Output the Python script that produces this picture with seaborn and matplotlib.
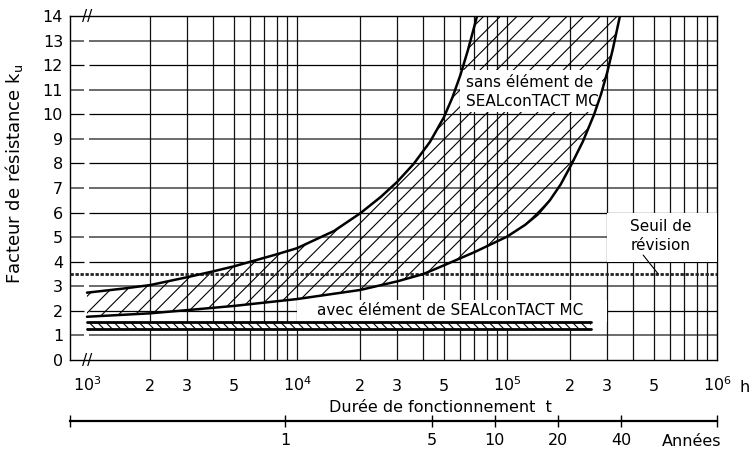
import numpy as np
import seaborn as sns
from matplotlib import pyplot as plt
from matplotlib.patches import Rectangle

# values (operating hours -> resistance factor k_u)
sans_upper_hours = [1e3, 1.5e3, 2e3, 3e3, 4e3, 5e3, 6e3, 8e3, 1e4, 1.5e4, 2e4,
                    2.5e4, 3e4, 3.6e4, 4.3e4, 5e4, 5.5e4, 6e4, 6.5e4, 7e4, 7.2e4]
sans_upper_ku = [2.74, 2.91, 3.05, 3.37, 3.61, 3.81, 4.0, 4.3, 4.55, 5.25, 5.97,
                 6.63, 7.25, 7.99, 8.88, 9.87, 10.69, 11.6, 12.58, 13.6, 14.0]
sans_lower_hours = [1e3, 2e3, 3e3, 5e3, 1e4, 2e4, 3e4, 4e4, 5e4, 7e4, 1e5, 1.22e5,
                    1.4e5, 1.6e5, 1.8e5, 2.03e5, 2.3e5, 2.6e5, 2.8e5, 3e5, 3.2e5,
                    3.45e5]
sans_lower_ku = [1.76, 1.9, 2.03, 2.2, 2.48, 2.85, 3.2, 3.5, 3.85, 4.39, 5.02, 5.5,
                 5.92, 6.5, 7.14, 7.97, 8.9, 10.0, 10.8, 11.7, 12.7, 14.0]

avec_hours = [1e3, 2.5e5]
avec_low = [1.25, 1.25]
avec_high = [1.55, 1.55]

seuil = 3.5

hour_ticks = [1e3, 2e3, 3e3, 5e3, 1e4, 2e4, 3e4, 5e4, 1e5, 2e5, 3e5, 5e5, 1e6]
hour_labels = [r"$10^{3}$", "2", "3", "5", r"$10^{4}$", "2", "3", "5",
               r"$10^{5}$", "2", "3", "5", r"$10^{6}$"]
year_ticks = [1, 5, 10, 20, 40]
HOURS_PER_YEAR = 8760.0

sns.set_theme(style="white")
plt.rcParams["font.family"] = ["DejaVu Sans"]
plt.rcParams["mathtext.default"] = "regular"
plt.rcParams["hatch.linewidth"] = 0.8
plt.rcParams["text.color"] = "black"
plt.rcParams["axes.labelcolor"] = "black"

fig = plt.figure(figsize=(7.52, 4.5), dpi=100)
ax = fig.add_axes([70 / 752, 90 / 450, 647 / 752, 344 / 450])
ax.set_xscale("log")
xmin, xmax = 830, 1e6
ax.set_xlim(xmin, xmax)
ax.set_ylim(0, 14)

# grid: horizontal lines broken right of the axis break, odd levels slightly grey
for level in range(1, 14):
    col = "#444444" if level % 2 else "black"
    lw = 1.1 if level % 2 else 0.9
    ax.hlines(level, xmin, 970, color=col, lw=lw, zorder=1)
    ax.hlines(level, 1025, xmax, color=col, lw=lw, zorder=1)
minor_x = [m * 10.0 ** e for e in (3, 4, 5) for m in range(2, 11)][:-1]
ax.vlines(minor_x, 0, 14, color="#111111", lw=0.9, zorder=1)

# hatched band without SEALconTACT element
poly_x = np.concatenate([sans_upper_hours, sans_lower_hours[::-1]])
poly_y = np.concatenate([sans_upper_ku, sans_lower_ku[::-1]])
ax.fill(poly_x, poly_y, facecolor="none", edgecolor="black", hatch="//",
        linewidth=0, zorder=2)

# narrow band with element
ax.fill_between(avec_hours, avec_low, avec_high, facecolor="white",
                edgecolor="black", hatch="\\\\\\\\", linewidth=0, zorder=2)
sns.lineplot(x=avec_hours, y=avec_low, color="black", lw=2.0, ax=ax, zorder=5)
sns.lineplot(x=avec_hours, y=avec_high, color="black", lw=2.0, ax=ax, zorder=5)

# white backgrounds behind the labels
ax.add_patch(Rectangle((1e4, 1.56), 3e5 - 1e4, 0.89, facecolor="white",
                       edgecolor="none", zorder=3))
ax.add_patch(Rectangle((5.97e4, 10.1), 2.82e5 - 5.97e4, 1.7, facecolor="white",
                       edgecolor="none", zorder=3))
ax.add_patch(Rectangle((3e5, 4), xmax - 3e5, 2, facecolor="white",
                       edgecolor="none", zorder=3))

ax.axhline(seuil, color="#222222", lw=2.0, ls=(0, (1.2, 0.6)), zorder=4)

sns.lineplot(x=sans_upper_hours, y=sans_upper_ku, color="black", lw=1.8,
             ax=ax, zorder=5)
sns.lineplot(x=sans_lower_hours, y=sans_lower_ku, color="black", lw=1.8,
             ax=ax, zorder=5)

ax.text(6.38e4, 10.9, "sans élément de\nSEALconTACT MC", ha="left", va="center",
        fontsize=11, linespacing=1.35, zorder=6)
ax.text(1.245e4, 2.0, "avec élément de SEALconTACT MC", ha="left", va="center",
        fontsize=11, zorder=6)
ax.text(5.41e5, 5.05, "Seuil de\nrévision", ha="center", va="center",
        fontsize=11, linespacing=1.3, zorder=6)
ax.annotate("", xy=(5.25e5, seuil), xytext=(4.45e5, 4.27),
            arrowprops=dict(arrowstyle="-", lw=0.8, color="black",
                            shrinkA=0, shrinkB=0), zorder=6)

# axis break marks
for yb in (0, 1):
    ax.text(0.027, yb, "//", transform=ax.transAxes, ha="center", va="center",
            fontsize=11, zorder=7, clip_on=False)

for s in ax.spines.values():
    s.set_visible(True)
    s.set_color("black")
    s.set_linewidth(1.0)

ax.set_yticks(range(0, 15))
ax.tick_params(axis="y", length=0, pad=5, labelsize=11.5, colors="black")
ax.set_xticks(hour_ticks, hour_labels)
ax.xaxis.set_minor_locator(plt.NullLocator())
ax.tick_params(axis="x", length=0, pad=22, labelsize=11.5, colors="black")
for lab in ax.get_xticklabels():
    lab.set_verticalalignment("baseline")

ax.set_ylabel("Facteur de résistance k$_{u}$", fontsize=13)
ax.yaxis.set_label_coords(-0.07, 0.54)
fig.text(440 / 752, 1 - 407 / 450, "Durée de fonctionnement  t", ha="center",
         va="center", fontsize=11.5)
fig.text(745 / 752, 1 - 391.7 / 450, "h", ha="center", va="baseline", fontsize=11.5)

# second scale in years
sec = ax.secondary_xaxis(-0.177, functions=(lambda h: h / HOURS_PER_YEAR,
                                            lambda y: y * HOURS_PER_YEAR))
yr_min, yr_max = xmin / HOURS_PER_YEAR, xmax / HOURS_PER_YEAR
sec.set_xticks([yr_min] + year_ticks + [yr_max],
               [""] + [str(y) for y in year_ticks] + [""])
sec.xaxis.set_minor_locator(plt.NullLocator())
sec.tick_params(axis="x", direction="inout", length=8, width=1.0, pad=5,
                labelsize=11.5, colors="black")
sec.spines["bottom"].set_linewidth(1.6)
sec.spines["bottom"].set_color("black")
fig.text(692 / 752, 1 - 441 / 450, "Années", ha="center", va="center", fontsize=11.5)

fig.savefig("out.png", dpi=100)
